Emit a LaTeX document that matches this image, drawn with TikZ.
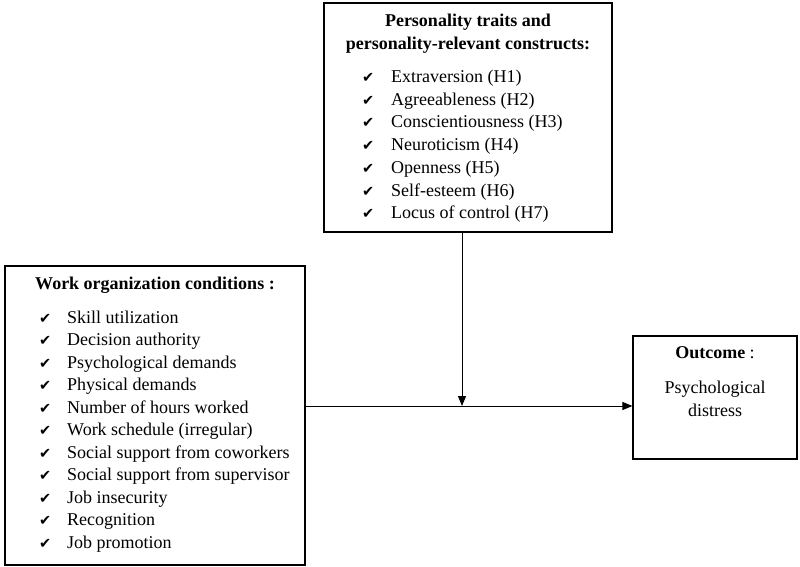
\documentclass[tikz,border=0pt]{standalone}
\usepackage{fontspec}
\setmainfont{Liberation Serif}
\newfontfamily\symfont{DejaVu Sans}
\usetikzlibrary{arrows.meta}
\tikzset{
  box/.style={draw, line width=1.1pt, minimum width=#1, inner sep=0pt},
  txt/.style={inner sep=0pt, anchor=base west, font=\fontsize{18}{22}\selectfont},
  ttl/.style={inner sep=0pt, anchor=base, font=\fontsize{18}{22}\selectfont\bfseries},
  ctr/.style={inner sep=0pt, anchor=base, font=\fontsize{18}{22}\selectfont},
  chk/.style={inner sep=0pt, anchor=base west, font=\symfont\fontsize{14.5}{16}\selectfont},
  conn/.style={line width=1pt, -{Triangle[length=10pt,width=8pt]}}
}
\begin{document}
\begin{tikzpicture}[x=1pt,y=-1pt]
\useasboundingbox (0,0) rectangle (800,566);
% boxes
\node[box=288pt, minimum height=229pt] (pers) at (468,117.5) {};
\node[box=300pt, minimum height=299pt] (work) at (155,415.5) {};
\node[box=164pt, minimum height=123pt] (out) at (715,397.5) {};
% personality text
\node[ttl] (pt1) at (468,26) {Personality traits and};
\node[ttl] (pt2) at (468,49) {personality-relevant constructs:};
\foreach \t [count=\i] in {Extraversion (H1),Agreeableness (H2),Conscientiousness (H3),Neuroticism (H4),Openness (H5),Self-esteem (H6),Locus of control (H7)}{
  \node[chk] (pc\i) at (362,{82.5+22.7*(\i-1)}) {✔};
  \node[txt] (p\i) at (391,{82.5+22.7*(\i-1)}) {\t};
}
% work text
\node[ttl] (wt) at (155,289) {Work organization conditions :};
\foreach \t [count=\i] in {Skill utilization,Decision authority,Psychological demands,Physical demands,Number of hours worked,Work schedule (irregular),Social support from coworkers,Social support from supervisor,Job insecurity,Recognition,Job promotion}{
  \node[chk] (wc\i) at (39,{323+22.5*(\i-1)}) {✔};
  \node[txt] (w\i) at (67,{323+22.5*(\i-1)}) {\t};
}
% outcome text
\node[ctr] (ot) at (715,358) {\textbf{Outcome} :};
\node[ctr] (o1) at (715,393) {Psychological};
\node[ctr] (o2) at (715,416) {distress};
% connectors
\coordinate (j) at (462,406);
\draw[conn] (work.east |- j) -- (out.west |- j);
\draw[conn] (pers.south -| j) -- (j);
\end{tikzpicture}
\end{document}
